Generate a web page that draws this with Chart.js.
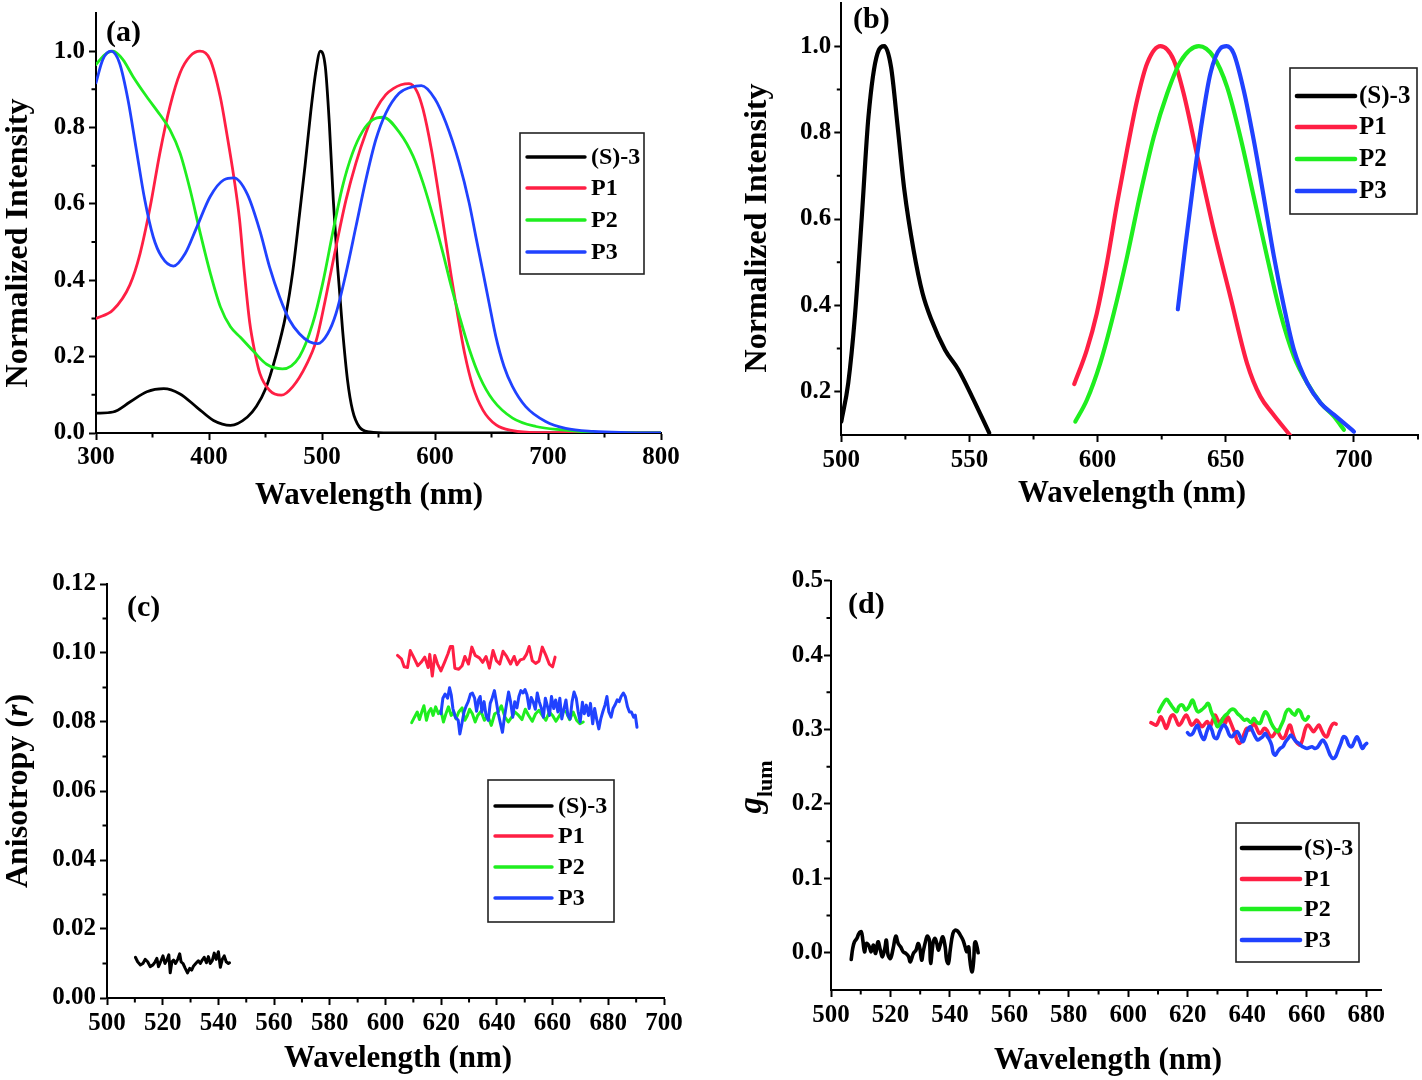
<!DOCTYPE html>
<html>
<head>
<meta charset="utf-8">
<script src="https://cdn.jsdelivr.net/npm/chart.js@4.4.1/dist/chart.umd.min.js"></script>
<style>
html,body{margin:0;padding:0;background:#fff;}
body{width:1422px;height:1080px;position:relative;overflow:hidden;}
canvas{position:absolute;}
</style>
</head>
<body>
<canvas id="ca" width="711" height="525" style="left:0px;top:0px;width:711px;height:525px"></canvas>
<canvas id="cb" width="711" height="525" style="left:711px;top:0px;width:711px;height:525px"></canvas>
<canvas id="cc" width="711" height="540" style="left:0px;top:540px;width:711px;height:540px"></canvas>
<canvas id="cd" width="711" height="540" style="left:711px;top:540px;width:711px;height:540px"></canvas>
<script>
// ---------- series names / colours ----------
const NAMES = ['(S)-3', 'P1', 'P2', 'P3'];
const COLORS = ['#000000', '#ff1f44', '#1fee1f', '#2042ff'];

// ---------- panel (a): normalized absorption, [wavelength nm, intensity] ----------
const aBlack = [[300,0.052],[315,0.055],[330,0.081],[345,0.108],[360,0.116],[374,0.103],[389,0.068],[404,0.033],[419,0.020],[434,0.042],[442,0.070],[450,0.115],[459,0.20],[468,0.31],[474,0.42],[480,0.57],[485,0.70],[490,0.84],[494.7,0.95],[498.5,1.0],[502.9,0.96],[506.5,0.81],[510,0.61],[513.8,0.436],[518.2,0.27],[522.6,0.138],[527,0.06],[533,0.016],[542,0.003],[560,0.0],[800,0.0]];
const aP1 = [[300,0.30],[315,0.322],[330,0.388],[339,0.47],[348,0.593],[356.5,0.733],[365.5,0.856],[374.4,0.943],[383.3,0.987],[392,1.0],[401,0.978],[410,0.88],[416,0.78],[422,0.67],[427,0.56],[431,0.43],[436,0.29],[440,0.22],[445,0.156],[453.5,0.112],[464,0.099],[474,0.121],[486,0.178],[495,0.243],[503.5,0.357],[512.4,0.488],[521.2,0.61],[530,0.707],[538.8,0.786],[547.6,0.847],[556.5,0.886],[563,0.902],[570,0.912],[577,0.915],[584,0.895],[589.4,0.848],[596.8,0.743],[602.6,0.638],[608.5,0.524],[614.4,0.41],[620.3,0.305],[626.2,0.209],[633.5,0.122],[642.4,0.060],[654.1,0.021],[668.8,0.006],[690,0.001],[800,0.0]];
const aP2 = [[300,0.965],[307.4,0.99],[315,1.0],[323.8,0.978],[332.7,0.934],[344.6,0.882],[356.5,0.834],[365.5,0.794],[374.4,0.733],[383.3,0.637],[392.3,0.523],[401.2,0.418],[410,0.331],[419,0.278],[428,0.25],[440,0.212],[451,0.18],[465,0.168],[480,0.2],[491.8,0.287],[500.6,0.392],[509.4,0.523],[518.2,0.646],[527,0.733],[535.9,0.79],[544.7,0.82],[554,0.827],[568.8,0.786],[580.6,0.725],[589.4,0.655],[598.2,0.568],[607,0.472],[614.4,0.384],[621.7,0.305],[630.5,0.218],[639.4,0.148],[651.1,0.087],[668.7,0.039],[689.4,0.017],[712.9,0.008],[740,0.002],[800,0.0]];
const aP3 = [[300,0.917],[306,0.978],[313.4,1.0],[320.8,0.969],[328.3,0.873],[335.7,0.742],[343.2,0.61],[350.6,0.514],[358,0.462],[368.5,0.437],[378.9,0.47],[389.3,0.54],[401.2,0.62],[413.1,0.663],[422,0.668],[434,0.625],[445,0.53],[453.5,0.436],[462.4,0.357],[471.2,0.296],[480,0.26],[488.8,0.239],[496.2,0.234],[505,0.26],[512.4,0.313],[521.2,0.418],[530,0.54],[538.8,0.663],[547.6,0.768],[556.5,0.838],[568.2,0.89],[578,0.905],[588,0.91],[600,0.875],[609.6,0.813],[621.3,0.708],[630.2,0.603],[636.1,0.515],[642,0.428],[647.9,0.34],[653.8,0.253],[661.1,0.174],[668.5,0.122],[680.3,0.069],[697.9,0.03],[715.6,0.012],[740,0.004],[770,0.001],[800,0.0]];
const aXTicks = [300,400,500,600,700,800];
const aXMinor = [350,450,550,650,750];
const aYTicks = [0,0.2,0.4,0.6,0.8,1.0];
const aYMinor = [0.1,0.3,0.5,0.7,0.9];

// ---------- panel (b): normalized emission ----------
const bBlack = [[500,0.131],[502.7,0.22],[505.3,0.374],[508,0.605],[510.6,0.837],[514.1,0.983],[516.8,1.0],[519.4,0.952],[522,0.813],[524.6,0.667],[528.2,0.528],[531.7,0.428],[535.2,0.366],[540.5,0.297],[545.7,0.251],[551,0.189],[557.7,0.105]];
const bP1 = [[590.9,0.218],[595.8,0.297],[599.7,0.382],[603.6,0.497],[607.6,0.636],[611.5,0.76],[615.4,0.875],[619.3,0.96],[624.5,1.0],[629.7,0.968],[633.6,0.89],[639.5,0.729],[645.3,0.575],[651.8,0.42],[658.3,0.266],[663.5,0.189],[668.1,0.151],[675,0.1]];
const bP2 = [[591.3,0.131],[595.8,0.181],[601,0.266],[606.3,0.382],[611.5,0.513],[616.7,0.659],[621.9,0.79],[627.1,0.89],[632.3,0.964],[639.5,1.0],[645.3,0.975],[650.5,0.906],[655.7,0.79],[660.9,0.652],[666.1,0.513],[671.3,0.382],[676.6,0.282],[681.8,0.22],[687,0.174],[692.2,0.143],[696.1,0.112]];
const bP3 = [[631.3,0.391],[634.2,0.536],[637.5,0.69],[640.8,0.829],[644,0.937],[647.9,0.995],[650.3,1.0],[653.1,0.983],[657,0.898],[660.9,0.783],[664.8,0.652],[668.8,0.513],[672.7,0.397],[676.6,0.297],[681.8,0.22],[687,0.174],[692.2,0.147],[700,0.108]];
const bXTicks = [500,550,600,650,700];
const bXMinor = [525,575,625,675,725];
const bYTicks = [0.2,0.4,0.6,0.8,1.0];
const bYMinor = [0.3,0.5,0.7,0.9];

// ---------- panel (c): anisotropy r ----------
const cBlack = [[510.2,0.0118],[511.0,0.0105],[512.0,0.0096],[512.9,0.0100],[513.7,0.0112],[514.6,0.0105],[515.5,0.0091],[516.5,0.0096],[517.3,0.0105],[517.9,0.0115],[518.5,0.0091],[519.4,0.0108],[520.1,0.0122],[520.8,0.0100],[521.5,0.0110],[522.2,0.0125],[522.7,0.0073],[523.3,0.0105],[523.9,0.0110],[524.6,0.0100],[525.4,0.0112],[526.1,0.0128],[526.6,0.0105],[527.3,0.0100],[528.1,0.0086],[528.9,0.0073],[529.7,0.0086],[530.4,0.0081],[531.1,0.0093],[532.1,0.0102],[532.8,0.0108],[533.5,0.0100],[534.2,0.0110],[534.9,0.0118],[535.7,0.0102],[536.4,0.0120],[537.1,0.0100],[537.8,0.0108],[538.5,0.0130],[539.2,0.0112],[540.0,0.0134],[540.7,0.0089],[541.4,0.0112],[542.1,0.0122],[542.8,0.0105],[543.6,0.0100],[544.0,0.0102]];
const cP1 = [[604.3,0.0993],[605.7,0.0983],[606.7,0.0960],[607.9,0.0958],[608.9,0.1007],[610.1,0.0988],[611.6,0.0963],[612.8,0.0973],[614.1,0.0988],[615.3,0.0958],[615.9,0.0996],[616.8,0.0933],[617.7,0.0993],[618.7,0.0968],[619.9,0.0948],[621.2,0.0973],[622.4,0.0997],[623.3,0.1019],[624.1,0.1019],[624.9,0.0956],[626.3,0.0953],[627.5,0.0963],[628.5,0.0990],[629.8,0.0968],[631.0,0.1017],[632.2,0.0993],[633.7,0.0986],[634.9,0.0973],[636.1,0.0990],[637.3,0.0956],[638.6,0.1007],[639.8,0.0978],[641.0,0.0968],[642.2,0.1005],[643.5,0.0990],[644.9,0.0968],[646.2,0.0990],[647.2,0.0966],[648.4,0.0980],[649.6,0.0983],[650.6,0.0996],[651.6,0.1019],[652.7,0.0978],[653.9,0.0970],[655.1,0.0976],[656.3,0.1017],[657.6,0.0993],[658.8,0.0968],[660.0,0.0960],[660.9,0.0988]];
const cP2 = [[609.4,0.0798],[610.4,0.0814],[611.4,0.0829],[612.2,0.0807],[613.1,0.0831],[613.8,0.0847],[614.7,0.0805],[615.5,0.0829],[616.3,0.0839],[617.1,0.0819],[618.0,0.0844],[619.0,0.0824],[619.9,0.0834],[620.8,0.0800],[621.7,0.0824],[622.6,0.0844],[623.6,0.0819],[624.5,0.0829],[625.3,0.0809],[626.3,0.0829],[627.5,0.0841],[628.5,0.0805],[629.4,0.0819],[630.2,0.0837],[631.2,0.0824],[632.2,0.0800],[633.1,0.0819],[634.3,0.0831],[635.5,0.0805],[636.7,0.0819],[638.0,0.0790],[639.2,0.0824],[640.4,0.0829],[641.6,0.0847],[642.9,0.0814],[644.1,0.0800],[645.3,0.0814],[646.5,0.0829],[647.8,0.0819],[649.0,0.0807],[650.2,0.0837],[651.4,0.0819],[652.7,0.0802],[653.9,0.0824],[655.1,0.0834],[656.3,0.0819],[657.6,0.0805],[658.8,0.0829],[660.0,0.0819],[661.2,0.0802],[662.5,0.0819],[663.7,0.0834],[664.9,0.0829],[666.1,0.0807],[667.4,0.0829],[668.6,0.0805],[669.8,0.0795],[671.0,0.0800]];
const cP3 = [[619.9,0.0824],[620.6,0.0869],[621.4,0.0881],[622.3,0.0869],[623.0,0.0899],[623.6,0.0879],[624.2,0.0839],[625.1,0.0814],[626.1,0.0805],[626.7,0.0765],[627.3,0.0790],[628.2,0.0829],[629.0,0.0847],[629.7,0.0859],[630.5,0.0881],[631.2,0.0884],[632.0,0.0869],[632.7,0.0831],[633.4,0.0864],[634.0,0.0874],[634.6,0.0829],[635.4,0.0859],[636.1,0.0819],[636.9,0.0805],[637.6,0.0854],[638.3,0.0869],[639.1,0.0891],[639.8,0.0859],[640.5,0.0824],[641.3,0.0795],[642.0,0.0770],[642.7,0.0814],[643.5,0.0854],[644.2,0.0887],[644.9,0.0859],[645.7,0.0814],[646.4,0.0859],[647.2,0.0841],[647.9,0.0874],[648.6,0.0891],[649.4,0.0884],[650.1,0.0894],[650.8,0.0879],[651.6,0.0839],[652.3,0.0871],[653.0,0.0859],[653.8,0.0837],[654.5,0.0884],[655.2,0.0859],[656.0,0.0839],[656.7,0.0814],[657.4,0.0869],[658.2,0.0844],[658.9,0.0819],[659.6,0.0874],[660.4,0.0839],[661.1,0.0864],[661.9,0.0829],[662.6,0.0869],[663.3,0.0809],[664.1,0.0839],[664.8,0.0864],[665.5,0.0819],[666.3,0.0809],[667.0,0.0859],[667.7,0.0887],[668.5,0.0869],[669.2,0.0829],[669.9,0.0800],[670.7,0.0857],[671.4,0.0824],[672.1,0.0849],[672.9,0.0819],[673.6,0.0854],[674.4,0.0795],[675.1,0.0839],[675.8,0.0809],[676.6,0.0780],[677.3,0.0809],[678.0,0.0829],[678.8,0.0849],[679.5,0.0874],[680.2,0.0829],[681.0,0.0814],[681.7,0.0839],[682.4,0.0849],[683.2,0.0864],[683.9,0.0859],[684.6,0.0874],[685.4,0.0884],[686.1,0.0874],[686.9,0.0844],[687.6,0.0829],[688.3,0.0829],[689.1,0.0814],[689.7,0.0820],[690.3,0.0785]];
const cXTicks = [500,520,540,560,580,600,620,640,660,680,700];
const cXMinor = [510,530,550,570,590,610,630,650,670,690];
const cYTicks = [0,0.02,0.04,0.06,0.08,0.10,0.12];
const cYMinor = [0.01,0.03,0.05,0.07,0.09,0.11];

// ---------- panel (d): g_lum ----------
const dBlack = [[506.8,-0.009],[507.3,0.0058],[507.9,0.0148],[508.7,0.0193],[509.4,0.026],[510.2,0.0282],[510.7,0.017],[511.3,0.0013],[511.9,0.0125],[512.8,0.009],[513.5,0.0013],[514.3,0.0103],[515.0,-0.0009],[515.8,0.0148],[516.6,0.0036],[517.3,-0.0054],[518.1,0.0058],[518.6,0.017],[519.2,-0.0031],[520.0,-0.0076],[520.9,0.0058],[521.8,0.0224],[522.6,0.0125],[523.4,0.0081],[524.3,0.0013],[525.2,-0.0009],[526.0,-0.0045],[526.7,-0.0121],[527.7,-0.0009],[528.6,0.0036],[529.3,0.0125],[529.9,0.0058],[530.5,-0.0099],[531.0,0.0013],[531.9,0.017],[532.4,0.0224],[533.1,0.017],[533.5,-0.0143],[534.4,0.0148],[535.0,0.0193],[535.6,0.0125],[536.1,0.0036],[536.7,0.0103],[537.6,0.0215],[538.4,0.0081],[538.9,-0.0099],[539.5,-0.0143],[540.1,0.0036],[541.0,0.026],[541.8,0.0305],[542.6,0.0291],[543.5,0.0237],[544.4,0.017],[545.1,0.0081],[545.7,0.0013],[546.3,0.0081],[546.6,-0.0054],[547.1,-0.021],[547.5,-0.0255],[548.0,-0.0099],[548.3,0.0125],[548.6,0.0148],[549.1,0.0081],[549.5,0.0]];
const dP1 = [[607.6,0.3092],[608.5,0.3074],[609.4,0.3060],[610.1,0.3105],[610.9,0.3172],[611.8,0.3105],[612.7,0.3016],[613.5,0.3083],[614.3,0.3172],[615.2,0.3195],[616.1,0.3128],[616.9,0.3060],[617.7,0.3083],[618.6,0.3150],[619.5,0.3195],[620.4,0.3128],[621.2,0.3060],[622.1,0.3083],[623.0,0.3128],[623.9,0.3083],[624.8,0.3038],[625.7,0.3074],[626.6,0.3105],[627.5,0.3038],[628.4,0.3128],[629.2,0.3195],[630.0,0.3137],[630.9,0.3083],[631.8,0.3150],[632.6,0.3083],[633.4,0.3172],[634.3,0.3105],[635.2,0.3016],[635.9,0.2948],[636.5,0.2859],[637.4,0.2814],[638.2,0.2859],[639.0,0.2948],[639.9,0.3016],[640.8,0.2993],[641.5,0.3038],[642.3,0.3083],[643.2,0.3016],[644.1,0.2948],[644.9,0.2971],[645.7,0.3016],[646.6,0.2993],[647.5,0.2926],[648.3,0.2904],[649.1,0.2939],[650.0,0.2993],[650.9,0.2926],[651.8,0.2881],[652.7,0.2904],[653.5,0.2993],[654.4,0.3060],[655.3,0.2948],[656.1,0.2859],[656.9,0.2814],[657.8,0.2792],[658.7,0.2881],[659.6,0.3016],[660.5,0.3060],[661.4,0.3016],[662.3,0.2971],[663.2,0.3016],[664.1,0.3060],[665.0,0.2993],[665.9,0.2926],[666.8,0.2904],[667.7,0.2993],[668.5,0.3060],[669.3,0.3083],[669.9,0.3074]];
const dP2 = [[610.2,0.3239],[611.7,0.3351],[612.9,0.3405],[614.0,0.3351],[615.2,0.3284],[616.3,0.3239],[617.0,0.3307],[618.2,0.3329],[619.3,0.3262],[620.4,0.3307],[621.6,0.3396],[622.5,0.3307],[623.4,0.3239],[624.6,0.3262],[625.8,0.3307],[626.9,0.3351],[627.9,0.3239],[629.1,0.3127],[630.0,0.3038],[631.0,0.3083],[632.2,0.3172],[633.4,0.3217],[634.4,0.3262],[635.5,0.3271],[636.7,0.3217],[637.9,0.3172],[639.0,0.3127],[640.0,0.3136],[641.3,0.3092],[642.2,0.3150],[643.1,0.3105],[644.3,0.3083],[645.2,0.3172],[646.1,0.3239],[647.0,0.3195],[648.1,0.3083],[649.1,0.3015],[650.3,0.2971],[651.2,0.3038],[652.2,0.3127],[653.1,0.3239],[654.1,0.3271],[655.2,0.3217],[656.1,0.3195],[657.0,0.3262],[657.9,0.3239],[658.8,0.3150],[659.7,0.3127],[660.6,0.3172]];
const dP3 = [[619.9,0.2957],[620.8,0.2926],[621.7,0.2948],[622.5,0.3016],[623.3,0.3060],[623.9,0.2993],[624.7,0.2904],[625.5,0.2868],[626.4,0.2971],[627.3,0.3047],[628.1,0.2993],[628.9,0.2895],[629.8,0.2881],[630.7,0.2971],[631.5,0.3038],[632.2,0.3060],[633.1,0.3016],[634.0,0.2926],[634.9,0.2904],[635.8,0.2948],[636.7,0.2971],[637.6,0.2904],[638.5,0.2836],[639.3,0.2904],[640.1,0.2993],[641.0,0.3038],[641.9,0.2971],[642.7,0.2904],[643.5,0.2859],[644.4,0.2881],[645.2,0.2904],[646.1,0.2948],[646.8,0.2904],[647.5,0.2859],[648.2,0.2792],[648.8,0.2680],[649.5,0.2657],[650.2,0.2702],[651.1,0.2747],[652.0,0.2769],[652.9,0.2836],[653.8,0.2881],[654.7,0.2926],[655.6,0.2881],[656.5,0.2836],[657.4,0.2814],[658.3,0.2778],[659.2,0.2760],[660.1,0.2747],[661.0,0.2760],[661.8,0.2769],[662.7,0.2747],[663.6,0.2760],[664.5,0.2814],[665.4,0.2859],[666.3,0.2814],[667.0,0.2747],[667.9,0.2657],[668.8,0.2612],[669.7,0.2635],[670.6,0.2724],[671.5,0.2814],[672.4,0.2904],[673.3,0.2881],[674.2,0.2792],[675.1,0.2769],[676.0,0.2836],[676.9,0.2904],[677.8,0.2836],[678.7,0.2747],[679.6,0.2792],[680.2,0.2814]];
const dXTicks = [500,520,540,560,580,600,620,640,660,680];
const dXMinor = [510,530,550,570,590,610,630,650,670];
const dYTicks = [0,0.1,0.2,0.3,0.4,0.5];
const dYMinor = [0.05,0.15,0.25,0.35,0.45];

// ---------- helpers ----------
const FAM = '"Liberation Serif", "Times New Roman", Times, serif';
function pts(arr) { return arr.map(p => ({x: p[0], y: p[1]})); }
function zeroPad(s) { s.paddingLeft = 0; s.paddingRight = 0; s.paddingTop = 0; s.paddingBottom = 0; }

function drawSegs(ctx, segs, x, y, rot) {
  ctx.save();
  ctx.translate(x, y);
  if (rot) ctx.rotate(rot);
  let total = 0;
  const ws = segs.map(s => { ctx.font = s.font; const w = ctx.measureText(s.t).width; total += w; return w; });
  let cx = -total / 2;
  ctx.textAlign = 'left';
  ctx.textBaseline = 'alphabetic';
  ctx.fillStyle = '#000';
  segs.forEach((s, i) => { ctx.font = s.font; ctx.fillText(s.t, cx, s.dy || 0); cx += ws[i]; });
  ctx.restore();
}

function makeDeco(P) {
  return {
    id: 'deco_' + P.id,
    afterDraw(chart) {
      const ctx = chart.ctx;
      const xs = chart.scales.x, ys = chart.scales.y;
      const ox = P.ox, oy = P.oy;
      ctx.save();
      // minor ticks
      ctx.strokeStyle = '#000';
      ctx.lineWidth = 2;
      ctx.beginPath();
      P.xMinor.forEach(v => { const p = xs.getPixelForValue(v); ctx.moveTo(p, xs.top); ctx.lineTo(p, xs.top + P.minorLen); });
      P.yMinor.forEach(v => { const p = ys.getPixelForValue(v); ctx.moveTo(ys.right, p); ctx.lineTo(ys.right - P.minorLen, p); });
      ctx.stroke();
      // axis titles
      drawSegs(ctx, P.xTitle.segs, P.xTitle.x - ox, P.xTitle.y - oy, 0);
      drawSegs(ctx, P.yTitle.segs, P.yTitle.x - ox, P.yTitle.y - oy, -Math.PI / 2);
      // panel label
      ctx.font = 'bold 30px ' + FAM;
      ctx.fillStyle = '#000';
      ctx.textAlign = 'left';
      ctx.textBaseline = 'alphabetic';
      ctx.fillText(P.label.t, P.label.x - ox, P.label.y - oy);
      // legend
      const L = P.legend;
      ctx.fillStyle = '#fff';
      ctx.fillRect(L.x0 - ox, L.y0 - oy, L.x1 - L.x0, L.y1 - L.y0);
      ctx.strokeStyle = '#222';
      ctx.lineWidth = 1.6;
      ctx.strokeRect(L.x0 - ox, L.y0 - oy, L.x1 - L.x0, L.y1 - L.y0);
      ctx.font = 'bold ' + L.fs + 'px ' + FAM;
      ctx.textBaseline = 'middle';
      ctx.lineCap = 'round';
      NAMES.forEach((n, i) => {
        const yy = L.rows[i] - oy;
        ctx.strokeStyle = COLORS[i];
        ctx.lineWidth = L.lw;
        ctx.beginPath();
        ctx.moveTo(L.lx0 - ox, yy);
        ctx.lineTo(L.lx1 - ox, yy);
        ctx.stroke();
        ctx.fillStyle = '#000';
        ctx.fillText(n, L.tx - ox, yy + 1);
      });
      ctx.restore();
    }
  };
}

function build(P) {
  const el = document.getElementById(P.id);
  const yW = P.left - P.ox, padR = P.ox + P.w - P.right, padT = P.top - P.oy, xH = P.oy + P.h - P.bottom;
  const tickFont = {family: FAM, weight: 'bold', size: 25};
  const grid = {drawOnChartArea: false, drawTicks: true, tickLength: 7, tickWidth: 2, tickColor: '#000', color: '#000'};
  const border = {display: true, color: '#000', width: 2};
  return new Chart(el, {
    type: 'line',
    data: {
      datasets: P.series.map((s, i) => ({
        label: NAMES[i],
        data: pts(s),
        borderColor: COLORS[i],
        backgroundColor: COLORS[i],
        borderWidth: P.lw,
        pointRadius: 0,
        pointHoverRadius: 0,
        fill: false,
        order: 3 - i,
        tension: P.tension,
        cubicInterpolationMode: P.mono ? 'monotone' : 'default',
        borderJoinStyle: 'round',
        borderCapStyle: 'round'
      }))
    },
    options: {
      responsive: false,
      animation: false,
      devicePixelRatio: 1,
      events: [],
      layout: {padding: {left: 0, top: padT, right: padR, bottom: 0}},
      plugins: {legend: {display: false}, tooltip: {enabled: false}, title: {display: false}},
      scales: {
        x: {
          type: 'linear', min: P.xMin, max: P.xMax,
          afterBuildTicks: s => { s.ticks = P.xTicks.map(v => ({value: v})); },
          afterFit: s => { s.height = xH; zeroPad(s); },
          ticks: {font: tickFont, color: '#000', padding: P.xPad, maxRotation: 0, minRotation: 0, autoSkip: false,
                  callback: v => Number(v).toFixed(P.xDec)},
          grid: grid, border: border
        },
        y: {
          type: 'linear', min: P.yMin, max: P.yMax,
          afterBuildTicks: s => { s.ticks = P.yTicks.map(v => ({value: v})); },
          afterFit: s => { s.width = yW; zeroPad(s); },
          ticks: {font: tickFont, color: '#000', padding: P.yPad, autoSkip: false,
                  callback: v => Number(v).toFixed(P.yDec)},
          grid: grid, border: border
        }
      }
    },
    plugins: [makeDeco(P)]
  });
}

const T31 = 'bold 31px ' + FAM;
const T32 = 'bold 32px ' + FAM;
const WL = 'Wavelength (nm)';

build({
  id: 'ca', ox: 0, oy: 0, w: 711, h: 525, left: 96, right: 661, top: 13, bottom: 433,
  series: [aBlack, aP1, aP2, aP3], lw: 2.8, tension: 0.4, mono: true,
  xMin: 300, xMax: 800, xTicks: aXTicks, xMinor: aXMinor, xDec: 0, xPad: 3,
  yMin: 0, yMax: 1.1, yTicks: aYTicks, yMinor: aYMinor, yDec: 1, yPad: 4, minorLen: 4.5,
  xTitle: {x: 369, y: 504, segs: [{t: WL, font: T31}]},
  yTitle: {x: 27, y: 243, segs: [{t: 'Normalized Intensity', font: T32}]},
  label: {t: '(a)', x: 106, y: 41},
  legend: {x0: 520, y0: 133, x1: 644, y1: 274, rows: [157, 188, 220, 252], lx0: 527, lx1: 585, tx: 591, fs: 24, lw: 3.4}
});

build({
  id: 'cb', ox: 711, oy: 0, w: 711, h: 525, left: 841.3, right: 1418, top: 3, bottom: 435,
  series: [bBlack, bP1, bP2, bP3], lw: 4.2, tension: 0.4, mono: true,
  xMin: 500, xMax: 725, xTicks: bXTicks, xMinor: bXMinor, xDec: 0, xPad: 4,
  yMin: 0.1, yMax: 1.1, yTicks: bYTicks, yMinor: bYMinor, yDec: 1, yPad: 3, minorLen: 4.5,
  xTitle: {x: 1132, y: 502, segs: [{t: WL, font: T31}]},
  yTitle: {x: 766, y: 228, segs: [{t: 'Normalized Intensity', font: T32}]},
  label: {t: '(b)', x: 853, y: 28},
  legend: {x0: 1290, y0: 68, x1: 1417, y1: 214, rows: [96, 127, 159, 191], lx0: 1297, lx1: 1355, tx: 1359, fs: 25, lw: 4.6}
});

build({
  id: 'cc', ox: 0, oy: 540, w: 711, h: 540, left: 107, right: 664, top: 584, bottom: 998,
  series: [cBlack, cP1, cP2, cP3], lw: 3.0, tension: 0, mono: false,
  xMin: 500, xMax: 700, xTicks: cXTicks, xMinor: cXMinor, xDec: 0, xPad: 4,
  yMin: 0, yMax: 0.12, yTicks: cYTicks, yMinor: cYMinor, yDec: 2, yPad: 4, minorLen: 4.5,
  xTitle: {x: 398, y: 1067, segs: [{t: WL, font: T31}]},
  yTitle: {x: 27, y: 791, segs: [{t: 'Anisotropy (', font: T32}, {t: 'r', font: 'italic bold 32px ' + FAM}, {t: ')', font: T32}]},
  label: {t: '(c)', x: 127, y: 616},
  legend: {x0: 488, y0: 780, x1: 614, y1: 922, rows: [806, 836, 867, 898], lx0: 495, lx1: 552, tx: 558, fs: 24, lw: 3.4}
});

build({
  id: 'cd', ox: 711, oy: 540, w: 711, h: 540, left: 831, right: 1381, top: 580.7, bottom: 990,
  series: [dBlack, dP1, dP2, dP3], lw: 3.6, tension: 0.4, mono: false,
  xMin: 500, xMax: 685, xTicks: dXTicks, xMinor: dXMinor, xDec: 0, xPad: 4,
  yMin: -0.05, yMax: 0.5, yTicks: dYTicks, yMinor: dYMinor, yDec: 1, yPad: 1, minorLen: 4.5,
  xTitle: {x: 1108, y: 1069, segs: [{t: WL, font: T31}]},
  yTitle: {x: 761, y: 787, segs: [{t: 'g', font: 'italic bold 33px ' + FAM}, {t: 'lum', font: 'bold 22px ' + FAM, dy: 11}]},
  label: {t: '(d)', x: 848, y: 613},
  legend: {x0: 1236, y0: 823, x1: 1359, y1: 962, rows: [848, 879, 909, 940], lx0: 1242, lx1: 1300, tx: 1304, fs: 24, lw: 4.6}
});
</script>
</body>
</html>
